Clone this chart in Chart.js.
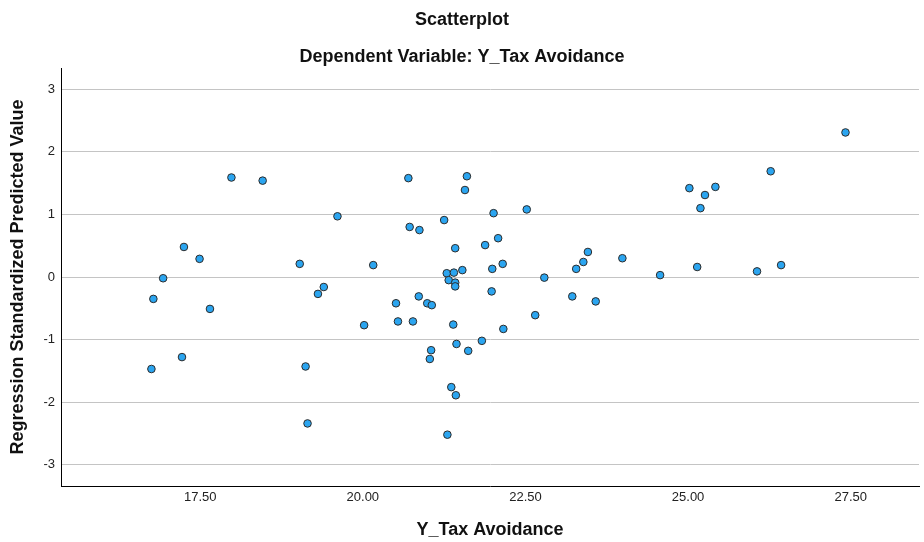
<!DOCTYPE html>
<html>
<head>
<meta charset="utf-8">
<title>Scatterplot</title>
<script src="https://cdn.jsdelivr.net/npm/chart.js@4/dist/chart.umd.min.js"></script>
<style>
  html, body { margin: 0; padding: 0; background: #fff; }
  canvas { display: block; }
</style>
</head>
<body>
<canvas id="scatter" width="924" height="542"></canvas>
<script>
const taxAvoidance = [
  17.98, 18.46, 19.61, 17.25, 17.49, 19.03, 20.16, 16.93, 16.78, 17.65,
  19.40, 19.31, 20.02, 17.22, 16.75, 19.12, 19.15, 20.70, 21.60, 21.57,
  21.25, 20.72, 20.87, 21.42, 21.29, 21.40, 21.53, 21.32, 21.42, 21.42,
  20.51, 20.86, 20.99, 21.06, 20.54, 20.77, 21.39, 21.44, 21.62, 21.05,
  21.03, 21.36, 21.43, 21.30, 22.01, 22.52, 21.88, 22.08, 21.99, 22.15,
  22.79, 21.98, 22.65, 22.16, 21.83, 27.42, 26.27, 25.02, 25.42, 25.26,
  25.19, 23.46, 23.39, 23.28, 23.99, 24.57, 25.14, 26.06, 26.43, 23.22,
  23.58,
];
const predictedValue = [
  1.59, 1.54, 0.97, 0.48, 0.29, 0.21, 0.19, -0.02, -0.35, -0.51,
  -0.16, -0.27, -0.77, -1.28, -1.47, -1.43, -2.34, 1.58, 1.61, 1.39,
  0.91, 0.80, 0.75, 0.46, 0.06, 0.07, 0.11, -0.05, -0.09, -0.15,
  -0.42, -0.31, -0.42, -0.45, -0.71, -0.71, -0.76, -1.07, -1.18, -1.17,
  -1.31, -1.76, -1.89, -2.52, 1.02, 1.08, 0.51, 0.62, 0.13, 0.21,
  -0.01, -0.23, -0.61, -0.83, -1.02, 2.31, 1.69, 1.42, 1.44, 1.31,
  1.10, 0.40, 0.24, 0.13, 0.30, 0.03, 0.16, 0.09, 0.19, -0.31,
  -0.39,
];
const xTicks = [17.5, 20, 22.5, 25, 27.5];
const yTicks = [-3, -2, -1, 0, 1, 2, 3];

const fontFamily = '"Liberation Sans", Arial, Helvetica, sans-serif';

const points = taxAvoidance.map((x, i) => ({ x, y: predictedValue[i] }));

const data = {
  datasets: [{
    label: 'Regression Standardized Predicted Value',
    data: points,
    backgroundColor: '#2ba5f0',
    borderColor: '#2b2b2b',
    borderWidth: 1,
    pointRadius: 3.8,
  }],
};

const options = {
  responsive: false,
  animation: false,
  layout: { padding: 0 },
  plugins: {
    legend: { display: false },
    tooltip: { enabled: false },
    title: {
      display: true,
      text: 'Scatterplot',
      color: '#111',
      font: { family: fontFamily, size: 18, weight: 'bold', lineHeight: 1.2 },
      padding: { top: 9.2, bottom: 0 },
    },
    subtitle: {
      display: true,
      text: 'Dependent Variable: Y_Tax Avoidance',
      color: '#111',
      font: { family: fontFamily, size: 18, weight: 'bold', lineHeight: 1.2 },
      padding: { top: 15.4, bottom: 0.2 },
    },
  },
  scales: {
    x: {
      type: 'linear',
      min: 15.36,
      max: 28.55,
      afterBuildTicks: (scale) => { scale.ticks = xTicks.map((v) => ({ value: v })); },
      afterFit: (scale) => { scale.height = 56; },
      grid: { display: false, drawTicks: false },
      border: { display: true, color: '#000', width: 1 },
      ticks: {
        padding: 4,
        color: '#222',
        font: { family: fontFamily, size: 13 },
        callback: (v) => Number(v).toFixed(2),
      },
      title: {
        display: true,
        text: 'Y_Tax Avoidance',
        color: '#111',
        font: { family: fontFamily, size: 18, weight: 'bold', lineHeight: 1.2 },
        padding: { top: 0, bottom: 1.2 },
      },
    },
    y: {
      type: 'linear',
      min: -3.34,
      max: 3.34,
      afterBuildTicks: (scale) => { scale.ticks = yTicks.map((v) => ({ value: v })); },
      afterFit: (scale) => { scale.width = 61; },
      grid: { color: '#c4c4c4', lineWidth: 1, drawTicks: false },
      border: { display: true, color: '#000', width: 1 },
      ticks: {
        padding: 6,
        color: '#222',
        font: { family: fontFamily, size: 13 },
        callback: (v) => String(v),
      },
      title: {
        display: true,
        text: 'Regression Standardized Predicted Value',
        color: '#111',
        font: { family: fontFamily, size: 18, weight: 'bold', lineHeight: 1.2 },
        padding: { top: 7.2, bottom: 2 },
      },
    },
  },
};

new Chart(document.getElementById('scatter'), { type: 'scatter', data, options });
</script>
</body>
</html>
